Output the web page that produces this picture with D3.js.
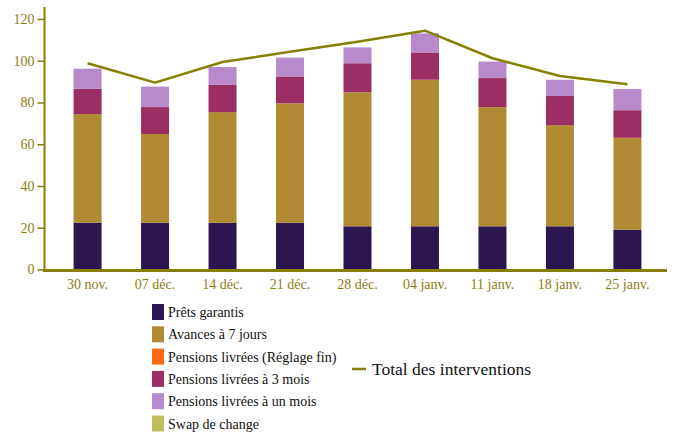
<!DOCTYPE html>
<html>
<head>
<meta charset="utf-8">
<script src="https://cdn.jsdelivr.net/npm/d3@7"></script>
<style>
  body { margin: 0; background: #fff; }
  svg { display: block; }
</style>
</head>
<body>
<div id="chart"></div>
<script>
// Données
const dates = ['30 nov.', '07 déc.', '14 déc.', '21 déc.', '28 déc.', '04 janv.', '11 janv.', '18 janv.', '25 janv.'];
const pretsGarantis = [22.4, 22.4, 22.4, 22.4, 20.7, 20.7, 20.7, 20.7, 19.1];
const avances7j = [52.1, 42.5, 53.0, 57.2, 64.2, 70.2, 57.1, 48.5, 44.0];
const reglageFin = [0, 0, 0, 0, 0, 0, 0, 0, 0];
const pensions3m = [12.0, 12.9, 13.0, 12.9, 13.9, 13.1, 13.9, 13.9, 13.2];
const pensions1m = [9.7, 9.8, 8.6, 9.0, 7.6, 9.1, 7.9, 7.8, 10.2];
const swapChange = [0, 0, 0, 0, 0, 0, 0, 0, 0];
const totalInterventions = [98.8, 89.5, 99.4, 104.3, 109.1, 114.4, 101.2, 92.7, 88.7];
const yTicks = [0, 20, 40, 60, 80, 100, 120];

const seriesNames = ['Prêts garantis', 'Avances à 7 jours', 'Pensions livrées (Réglage fin)',
  'Pensions livrées à 3 mois', 'Pensions livrées à un mois', 'Swap de change'];
const seriesValues = [pretsGarantis, avances7j, reglageFin, pensions3m, pensions1m, swapChange];
const colors = ['#2c1650', '#b18a34', '#ff6a10', '#9b2e62', '#b98acb', '#bdbd5e'];

const width = 680, height = 439;
const axisColor = '#858000';
const textColor = '#8c7d12';
const serif = '"Liberation Serif", "Times New Roman", Times, serif';

const svg = d3.select('#chart').append('svg')
  .attr('width', width)
  .attr('height', height)
  .attr('font-family', serif);

const x = d3.scaleBand()
  .domain(dates)
  .range([54, 661])
  .paddingInner(0.585)
  .paddingOuter(0.29);

const y = d3.scaleLinear()
  .domain([0, 120])
  .range([269.5, 19]);

// Table empilée
const table = dates.map((d, i) => {
  const row = { date: d };
  seriesNames.forEach((s, k) => { row[s] = seriesValues[k][i]; });
  return row;
});
const stacked = d3.stack().keys(seriesNames)(table);

svg.append('g')
  .selectAll('g')
  .data(stacked)
  .join('g')
  .attr('fill', (d, i) => colors[i])
  .selectAll('rect')
  .data(d => d)
  .join('rect')
  .attr('x', d => x(d.data.date))
  .attr('y', d => y(d[1]))
  .attr('width', x.bandwidth())
  .attr('height', d => y(d[0]) - y(d[1]));

// Axe Y
const yAxis = svg.append('g')
  .attr('transform', 'translate(44.5,0)')
  .call(d3.axisLeft(y).tickValues(yTicks).tickSize(7).tickPadding(3));
yAxis.attr('font-family', serif).attr('font-size', 14);
yAxis.select('.domain').remove();
yAxis.selectAll('.tick line').attr('stroke', axisColor).attr('stroke-width', 1.5);
yAxis.selectAll('.tick text').attr('fill', textColor);
svg.append('line')
  .attr('x1', 44.5).attr('x2', 44.5)
  .attr('y1', 7).attr('y2', 270)
  .attr('stroke', axisColor).attr('stroke-width', 2);

// Axe X
const xAxis = svg.append('g')
  .attr('transform', 'translate(0,270)')
  .call(d3.axisBottom(x).tickSize(0).tickPadding(9));
xAxis.attr('font-family', serif).attr('font-size', 14);
xAxis.select('.domain').remove();
xAxis.selectAll('.tick text').attr('fill', textColor);
svg.append('line')
  .attr('x1', 43).attr('x2', 667)
  .attr('y1', 270.5).attr('y2', 270.5)
  .attr('stroke', axisColor).attr('stroke-width', 3);

// Ligne du total
const line = d3.line()
  .x((d, i) => x(dates[i]) + x.bandwidth() / 2)
  .y(d => y(d));
svg.append('path')
  .datum(totalInterventions)
  .attr('d', line)
  .attr('fill', 'none')
  .attr('stroke', '#858000')
  .attr('stroke-width', 2.5)
  .attr('stroke-linejoin', 'round');

// Légende
const legend = svg.append('g').attr('transform', 'translate(152,304)');
seriesNames.forEach((s, i) => {
  const g = legend.append('g').attr('transform', `translate(0,${i * 22.3})`);
  g.append('rect')
    .attr('width', 12).attr('height', 16)
    .attr('fill', colors[i]);
  g.append('text')
    .attr('x', 16).attr('y', 13)
    .attr('fill', '#111')
    .attr('font-family', serif)
    .attr('font-size', 14)
    .text(s);
});

const lineLegend = svg.append('g').attr('transform', 'translate(352,369)');
lineLegend.append('line')
  .attr('x1', 0).attr('x2', 14)
  .attr('stroke', '#858000').attr('stroke-width', 2.5);
lineLegend.append('text')
  .attr('x', 20).attr('y', 6)
  .attr('fill', '#111')
  .attr('font-family', serif)
  .attr('font-size', 17.5)
  .text('Total des interventions');
</script>
</body>
</html>
